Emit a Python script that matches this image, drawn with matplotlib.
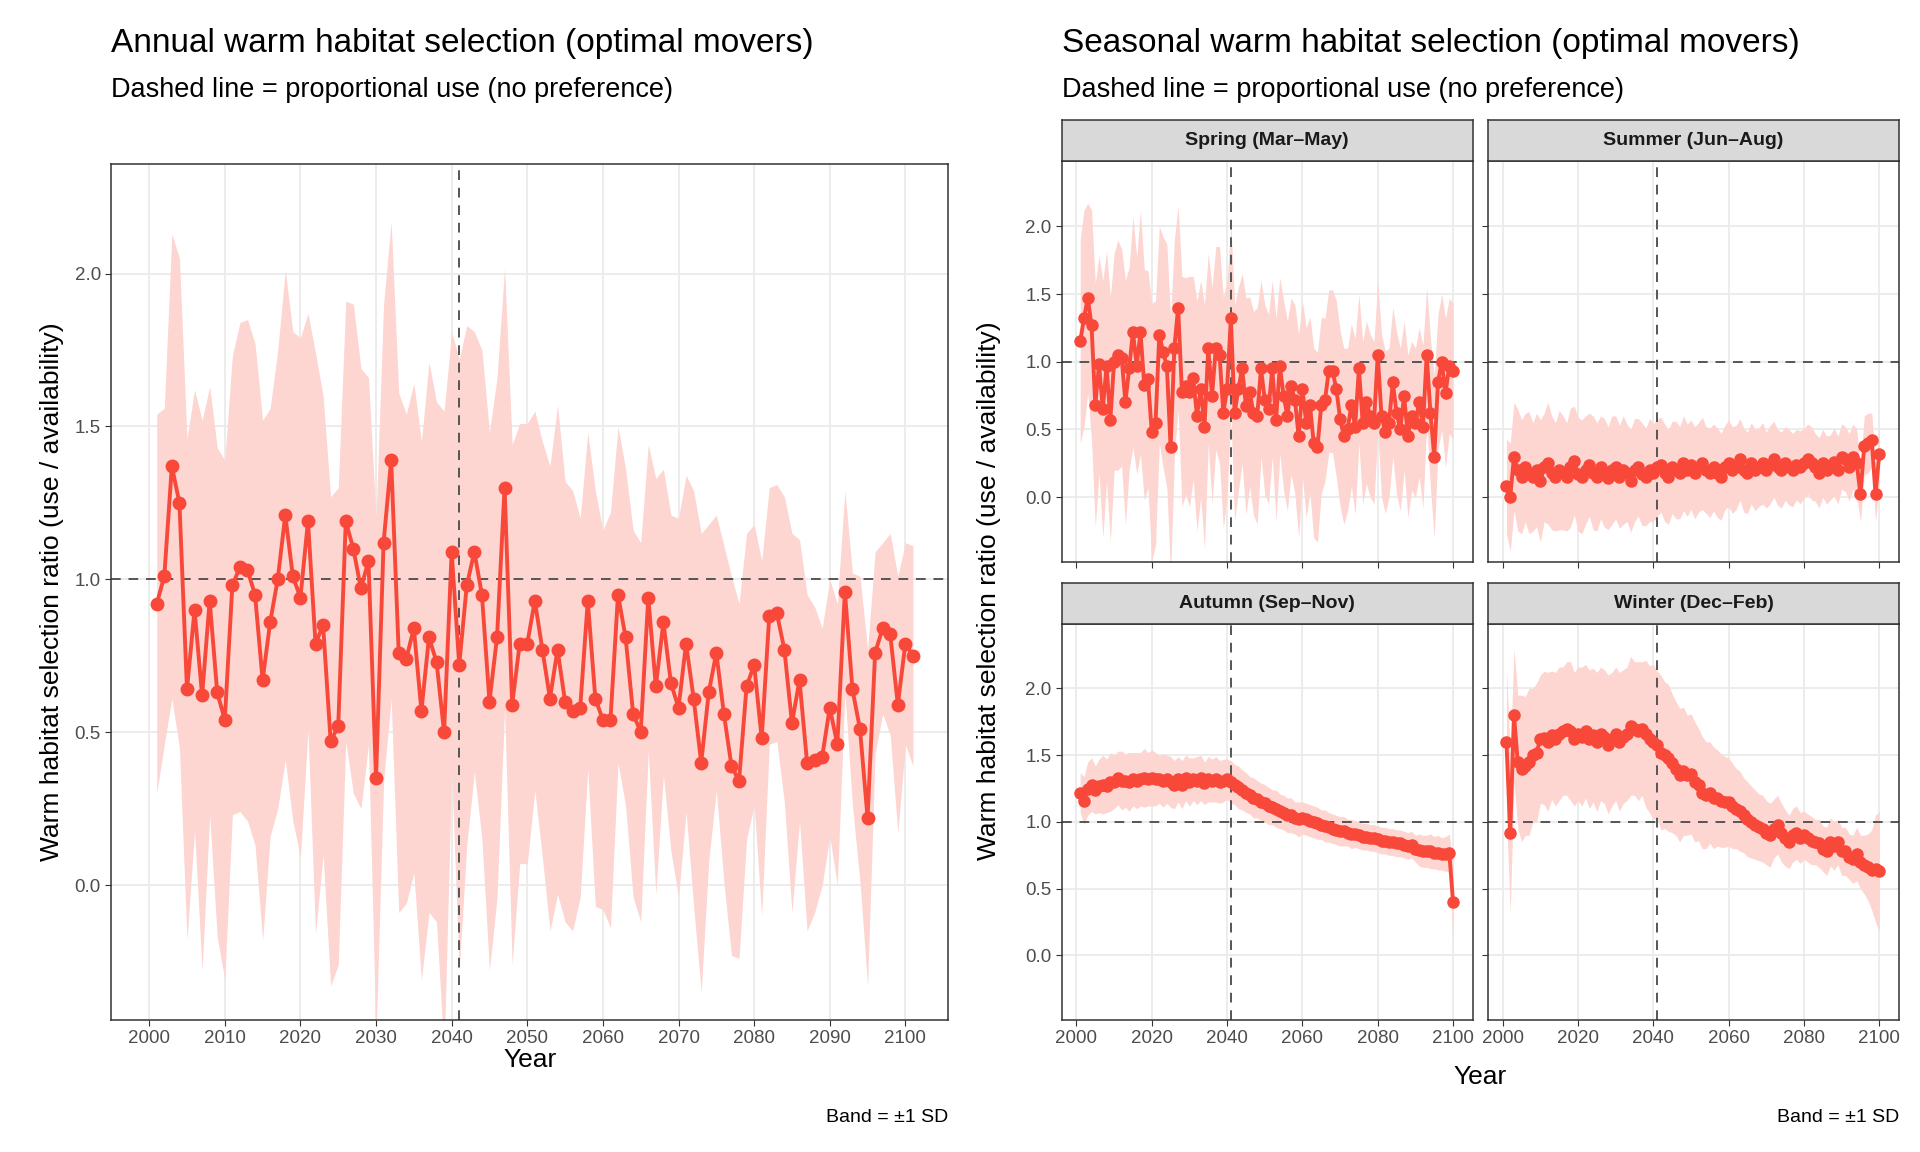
import numpy as np
import matplotlib
matplotlib.use("Agg")
import matplotlib.pyplot as plt

plt.rcParams['font.family'] = ['Liberation Sans', 'DejaVu Sans']

# ---- data ----
annual_years = list(range(2001, 2102))
annual_mean = [0.92, 1.01, 1.37, 1.25, 0.64, 0.90, 0.62, 0.93, 0.63, 0.54,
               0.98, 1.04, 1.03, 0.95, 0.67, 0.86, 1.00, 1.21, 1.01, 0.94,
               1.19, 0.79, 0.85, 0.47, 0.52, 1.19, 1.10, 0.97, 1.06, 0.35,
               1.12, 1.39, 0.76, 0.74, 0.84, 0.57, 0.81, 0.73, 0.50, 1.09,
               0.72, 0.98, 1.09, 0.95, 0.60, 0.81, 1.30, 0.59, 0.79, 0.79,
               0.93, 0.77, 0.61, 0.77, 0.60, 0.57, 0.58, 0.93, 0.61, 0.54,
               0.54, 0.95, 0.81, 0.56, 0.50, 0.94, 0.65, 0.86, 0.66, 0.58,
               0.79, 0.61, 0.40, 0.63, 0.76, 0.56, 0.39, 0.34, 0.65, 0.72,
               0.48, 0.88, 0.89, 0.77, 0.53, 0.67, 0.40, 0.41, 0.42, 0.58,
               0.46, 0.96, 0.64, 0.51, 0.22, 0.76, 0.84, 0.82, 0.59, 0.79,
               0.75]
annual_sd = [0.62, 0.55, 0.76, 0.80, 0.82, 0.72, 0.90, 0.70, 0.80, 0.85,
             0.75, 0.80, 0.82, 0.82, 0.85, 0.70, 0.75, 0.80, 0.80, 0.85,
             0.68, 0.95, 0.75, 0.80, 0.78, 0.72, 0.80, 0.72, 0.60, 0.85,
             0.78, 0.78, 0.85, 0.80, 0.80, 0.88, 0.90, 0.85, 1.05, 0.72,
             1.00, 0.85, 0.72, 0.80, 0.88, 0.85, 0.72, 0.85, 0.72, 0.72,
             0.62, 0.68, 0.76, 0.80, 0.72, 0.72, 0.62, 0.55, 0.68, 0.62,
             0.68, 0.55, 0.55, 0.60, 0.62, 0.50, 0.68, 0.50, 0.55, 0.62,
             0.55, 0.68, 0.75, 0.55, 0.45, 0.55, 0.62, 0.58, 0.50, 0.46,
             0.58, 0.42, 0.42, 0.50, 0.62, 0.46, 0.55, 0.50, 0.42, 0.42,
             0.46, 0.33, 0.38, 0.50, 0.55, 0.33, 0.28, 0.33, 0.42, 0.33,
             0.36]

season_years = list(range(2001, 2101))
spring_mean = [1.15, 1.32, 1.47, 1.27, 0.68, 0.98, 0.65, 0.97, 0.57, 1.00,
               1.05, 1.03, 0.70, 0.95, 1.22, 0.97, 1.22, 0.83, 0.87, 0.48,
               0.55, 1.20, 1.07, 0.97, 0.37, 1.10, 1.40, 0.78, 0.82, 0.78,
               0.88, 0.60, 0.80, 0.52, 1.10, 0.75, 1.10, 1.05, 0.62, 0.80,
               1.32, 0.62, 0.80, 0.95, 0.67, 0.78, 0.62, 0.60, 0.95, 0.72,
               0.65, 0.95, 0.57, 0.97, 0.75, 0.60, 0.82, 0.72, 0.45, 0.80,
               0.55, 0.68, 0.40, 0.37, 0.68, 0.72, 0.93, 0.93, 0.80, 0.58,
               0.45, 0.50, 0.68, 0.52, 0.95, 0.55, 0.70, 0.60, 0.55, 1.05,
               0.60, 0.48, 0.55, 0.85, 0.62, 0.50, 0.75, 0.45, 0.60, 0.55,
               0.70, 0.52, 1.05, 0.62, 0.30, 0.85, 1.00, 0.77, 0.97, 0.93]
spring_sd = [0.75, 0.80, 0.70, 0.85, 0.90, 0.80, 0.95, 0.85, 0.90, 0.80,
             0.85, 0.80, 0.90, 0.75, 0.85, 0.80, 0.90, 0.85, 0.80, 0.95,
             0.90, 0.80, 0.85, 0.90, 0.95, 0.80, 0.75, 0.85, 0.80, 0.85,
             0.75, 0.85, 0.80, 0.90, 0.70, 0.80, 0.75, 0.80, 0.85, 0.80,
             0.70, 0.80, 0.75, 0.70, 0.80, 0.70, 0.75, 0.80, 0.65, 0.70,
             0.70, 0.65, 0.75, 0.65, 0.70, 0.70, 0.65, 0.70, 0.75, 0.65,
             0.70, 0.65, 0.70, 0.70, 0.65, 0.60, 0.60, 0.60, 0.65, 0.65,
             0.65, 0.60, 0.60, 0.65, 0.55, 0.60, 0.60, 0.60, 0.60, 0.55,
             0.60, 0.60, 0.55, 0.55, 0.60, 0.60, 0.55, 0.60, 0.55, 0.55,
             0.55, 0.60, 0.50, 0.55, 0.60, 0.50, 0.50, 0.55, 0.50, 0.50]
summer_mean = [0.08, 0.00, 0.30, 0.20, 0.15, 0.22, 0.18, 0.15, 0.20, 0.12,
               0.22, 0.25, 0.18, 0.15, 0.20, 0.18, 0.15, 0.22, 0.27, 0.17,
               0.15, 0.20, 0.24, 0.18, 0.15, 0.22, 0.18, 0.14, 0.20, 0.22,
               0.15, 0.20, 0.18, 0.12, 0.20, 0.22, 0.17, 0.15, 0.20, 0.18,
               0.22, 0.24, 0.18, 0.15, 0.22, 0.20, 0.18, 0.25, 0.20, 0.24,
               0.18, 0.22, 0.25, 0.20, 0.18, 0.22, 0.18, 0.15, 0.22, 0.25,
               0.20, 0.22, 0.28, 0.20, 0.18, 0.25, 0.20, 0.22, 0.25, 0.20,
               0.24, 0.28, 0.22, 0.20, 0.25, 0.22, 0.20, 0.24, 0.22, 0.25,
               0.28, 0.25, 0.22, 0.18, 0.25, 0.20, 0.22, 0.26, 0.20, 0.30,
               0.28, 0.22, 0.30, 0.25, 0.02, 0.38, 0.40, 0.42, 0.02, 0.32]
summer_sd = [0.35, 0.40, 0.40, 0.45, 0.42, 0.40, 0.45, 0.40, 0.42, 0.45,
             0.40, 0.45, 0.42, 0.40, 0.44, 0.42, 0.40, 0.44, 0.40, 0.42,
             0.42, 0.40, 0.38, 0.42, 0.40, 0.38, 0.40, 0.38, 0.40, 0.38,
             0.38, 0.40, 0.36, 0.38, 0.38, 0.36, 0.38, 0.36, 0.38, 0.36,
             0.36, 0.35, 0.36, 0.35, 0.34, 0.36, 0.34, 0.35, 0.34, 0.33,
             0.34, 0.33, 0.34, 0.32, 0.33, 0.32, 0.33, 0.32, 0.31, 0.32,
             0.32, 0.31, 0.30, 0.31, 0.30, 0.30, 0.30, 0.29, 0.30, 0.28,
             0.29, 0.28, 0.28, 0.28, 0.27, 0.28, 0.27, 0.26, 0.27, 0.26,
             0.26, 0.27, 0.25, 0.26, 0.25, 0.25, 0.24, 0.25, 0.25, 0.24,
             0.24, 0.25, 0.24, 0.25, 0.20, 0.22, 0.22, 0.20, 0.20, 0.20]
autumn_mean = [1.22, 1.16, 1.25, 1.28, 1.24, 1.27, 1.28, 1.27, 1.30, 1.30,
               1.33, 1.31, 1.31, 1.30, 1.32, 1.31, 1.32, 1.33, 1.32, 1.33,
               1.32, 1.32, 1.31, 1.32, 1.30, 1.28, 1.32, 1.28, 1.33, 1.30,
               1.32, 1.31, 1.33, 1.29, 1.32, 1.31, 1.32, 1.30, 1.31, 1.32,
               1.30, 1.28, 1.26, 1.24, 1.22, 1.20, 1.18, 1.17, 1.15, 1.14,
               1.12, 1.11, 1.10, 1.08, 1.07, 1.05, 1.05, 1.03, 1.02, 1.03,
               1.02, 1.01, 1.00, 0.99, 0.98, 0.97, 0.96, 0.95, 0.94, 0.93,
               0.93, 0.92, 0.91, 0.91, 0.90, 0.89, 0.89, 0.88, 0.88, 0.87,
               0.86, 0.86, 0.85, 0.85, 0.84, 0.84, 0.83, 0.82, 0.83, 0.80,
               0.79, 0.78, 0.78, 0.78, 0.77, 0.77, 0.76, 0.76, 0.77, 0.40]
autumn_sd = [0.15, 0.18, 0.20, 0.20, 0.18, 0.20, 0.22, 0.20, 0.22, 0.20,
             0.20, 0.22, 0.20, 0.22, 0.20, 0.21, 0.20, 0.22, 0.20, 0.21,
             0.20, 0.18, 0.20, 0.18, 0.19, 0.18, 0.17, 0.18, 0.17, 0.18,
             0.16, 0.18, 0.17, 0.16, 0.17, 0.16, 0.17, 0.16, 0.16, 0.15,
             0.16, 0.15, 0.16, 0.15, 0.15, 0.14, 0.15, 0.14, 0.14, 0.14,
             0.14, 0.13, 0.14, 0.13, 0.13, 0.13, 0.13, 0.12, 0.13, 0.12,
             0.12, 0.12, 0.12, 0.12, 0.11, 0.12, 0.11, 0.11, 0.11, 0.11,
             0.11, 0.10, 0.11, 0.10, 0.10, 0.10, 0.10, 0.10, 0.10, 0.10,
             0.10, 0.10, 0.10, 0.10, 0.10, 0.10, 0.10, 0.10, 0.10, 0.10,
             0.12, 0.12, 0.12, 0.13, 0.12, 0.13, 0.12, 0.13, 0.14, 0.30]
winter_mean = [1.60, 0.92, 1.80, 1.45, 1.40, 1.42, 1.45, 1.50, 1.52, 1.62,
               1.63, 1.60, 1.65, 1.62, 1.66, 1.68, 1.70, 1.68, 1.62, 1.66,
               1.64, 1.68, 1.62, 1.65, 1.60, 1.66, 1.64, 1.58, 1.62, 1.66,
               1.60, 1.64, 1.66, 1.72, 1.70, 1.68, 1.70, 1.66, 1.62, 1.60,
               1.58, 1.52, 1.50, 1.48, 1.44, 1.40, 1.35, 1.38, 1.35, 1.36,
               1.30, 1.28, 1.22, 1.20, 1.22, 1.18, 1.18, 1.16, 1.15, 1.15,
               1.12, 1.10, 1.08, 1.05, 1.02, 1.00, 0.98, 0.96, 0.95, 0.92,
               0.90, 0.95, 0.98, 0.92, 0.88, 0.85, 0.90, 0.92, 0.88, 0.90,
               0.88, 0.86, 0.85, 0.84, 0.80, 0.78, 0.85, 0.82, 0.85, 0.78,
               0.78, 0.74, 0.72, 0.76, 0.70, 0.68, 0.66, 0.64, 0.65, 0.63]
winter_sd = [0.55, 0.60, 0.50, 0.50, 0.55, 0.52, 0.55, 0.50, 0.52, 0.48,
             0.50, 0.52, 0.48, 0.50, 0.50, 0.48, 0.50, 0.52, 0.50, 0.50,
             0.52, 0.50, 0.52, 0.50, 0.52, 0.50, 0.50, 0.52, 0.50, 0.50,
             0.52, 0.50, 0.50, 0.52, 0.50, 0.52, 0.50, 0.55, 0.55, 0.58,
             0.55, 0.58, 0.55, 0.55, 0.52, 0.50, 0.50, 0.48, 0.45, 0.45,
             0.45, 0.42, 0.42, 0.40, 0.38, 0.38, 0.36, 0.35, 0.34, 0.33,
             0.32, 0.30, 0.30, 0.28, 0.28, 0.27, 0.26, 0.25, 0.25, 0.24,
             0.24, 0.22, 0.22, 0.22, 0.21, 0.20, 0.20, 0.20, 0.19, 0.18,
             0.18, 0.18, 0.17, 0.18, 0.17, 0.18, 0.18, 0.18, 0.17, 0.18,
             0.18, 0.17, 0.18, 0.20, 0.20, 0.22, 0.25, 0.30, 0.40, 0.45]

seasons = [("Spring (Mar\u2013May)", spring_mean, spring_sd),
           ("Summer (Jun\u2013Aug)", summer_mean, summer_sd),
           ("Autumn (Sep\u2013Nov)", autumn_mean, autumn_sd),
           ("Winter (Dec\u2013Feb)", winter_mean, winter_sd)]

LINE = "#F8483A"
BAND = "#FDD5D1"
GRID = "#EBEBEB"
DARK = "#333333"


def style(ax, xlim, ylim, xticks):
    ax.set_xlim(*xlim)
    ax.set_ylim(*ylim)
    ax.set_xticks(xticks)
    ax.set_yticks([0, 0.5, 1.0, 1.5, 2.0])
    ax.set_yticklabels(["0.0", "0.5", "1.0", "1.5", "2.0"])
    ax.grid(True, color=GRID, linewidth=1.3)
    ax.set_axisbelow(True)
    for s in ax.spines.values():
        s.set_color(DARK)
        s.set_linewidth(1.1)
    ax.tick_params(colors=DARK, labelcolor="#4D4D4D", labelsize=13.5, length=4)


def draw(ax, yrs, mean, sd, ms, lw):
    m = np.array(mean)
    s = np.array(sd)
    ax.fill_between(yrs, m - s, m + s, color=BAND, linewidth=0, zorder=1)
    ax.axhline(1.0, color="#555555", linestyle=(0, (5, 4)), linewidth=1.4, zorder=2)
    ax.axvline(2041, color="#555555", linestyle=(0, (5, 4)), linewidth=1.4, zorder=2)
    ax.plot(yrs, m, color=LINE, linewidth=lw, marker="o", markersize=ms, zorder=3)


fig = plt.figure(figsize=(19.2, 11.52), dpi=100)

# ---- annual ----
ax = fig.add_axes([0.058, 0.115, 0.436, 0.743])
draw(ax, annual_years, annual_mean, annual_sd, 9, 2.8)
style(ax, (1995, 2105.7), (-0.44, 2.36), range(2000, 2101, 10))
ax.set_xlabel("Year", fontsize=19, labelpad=1)
ax.set_ylabel("Warm habitat selection ratio (use / availability)", fontsize=19, labelpad=8)
fig.text(0.058, 0.962, "Annual warm habitat selection (optimal movers)", fontsize=24, va="center")
fig.text(0.058, 0.922, "Dashed line = proportional use (no preference)", fontsize=19.5, va="center")
fig.text(0.494, 0.03, "Band = \u00b11 SD", fontsize=14, ha="right", va="center")

# ---- seasonal ----
xs = [0.553, 0.775]
ys = [(0.512, 0.860), (0.115, 0.458)]
w = 0.214
for i, (name, mean, sd) in enumerate(seasons):
    x0 = xs[i % 2]
    y0, y1 = ys[i // 2]
    a = fig.add_axes([x0, y0, w, y1 - y0])
    draw(a, season_years, mean, sd, 8, 2.8)
    style(a, (1996.1, 2105.2), (-0.48, 2.48), range(2000, 2101, 20))
    if i % 2 == 1:
        a.tick_params(labelleft=False)
    if i < 2:
        a.tick_params(labelbottom=False)
    st = fig.add_axes([x0, y1, w, 0.036])
    st.set_xticks([])
    st.set_yticks([])
    st.set_facecolor("#D9D9D9")
    for s in st.spines.values():
        s.set_color(DARK)
        s.set_linewidth(1.1)
    st.text(0.5, 0.5, name, ha="center", va="center", fontsize=14,
            fontweight="bold", color="#1A1A1A", transform=st.transAxes)

fig.text(0.771, 0.065, "Year", fontsize=19, ha="center", va="center")
fig.text(0.515, 0.487, "Warm habitat selection ratio (use / availability)", fontsize=19,
         rotation=90, ha="center", va="center")
fig.text(0.553, 0.962, "Seasonal warm habitat selection (optimal movers)", fontsize=24, va="center")
fig.text(0.553, 0.922, "Dashed line = proportional use (no preference)", fontsize=19.5, va="center")
fig.text(0.989, 0.03, "Band = \u00b11 SD", fontsize=14, ha="right", va="center")

fig.savefig("out.png", dpi=100)
